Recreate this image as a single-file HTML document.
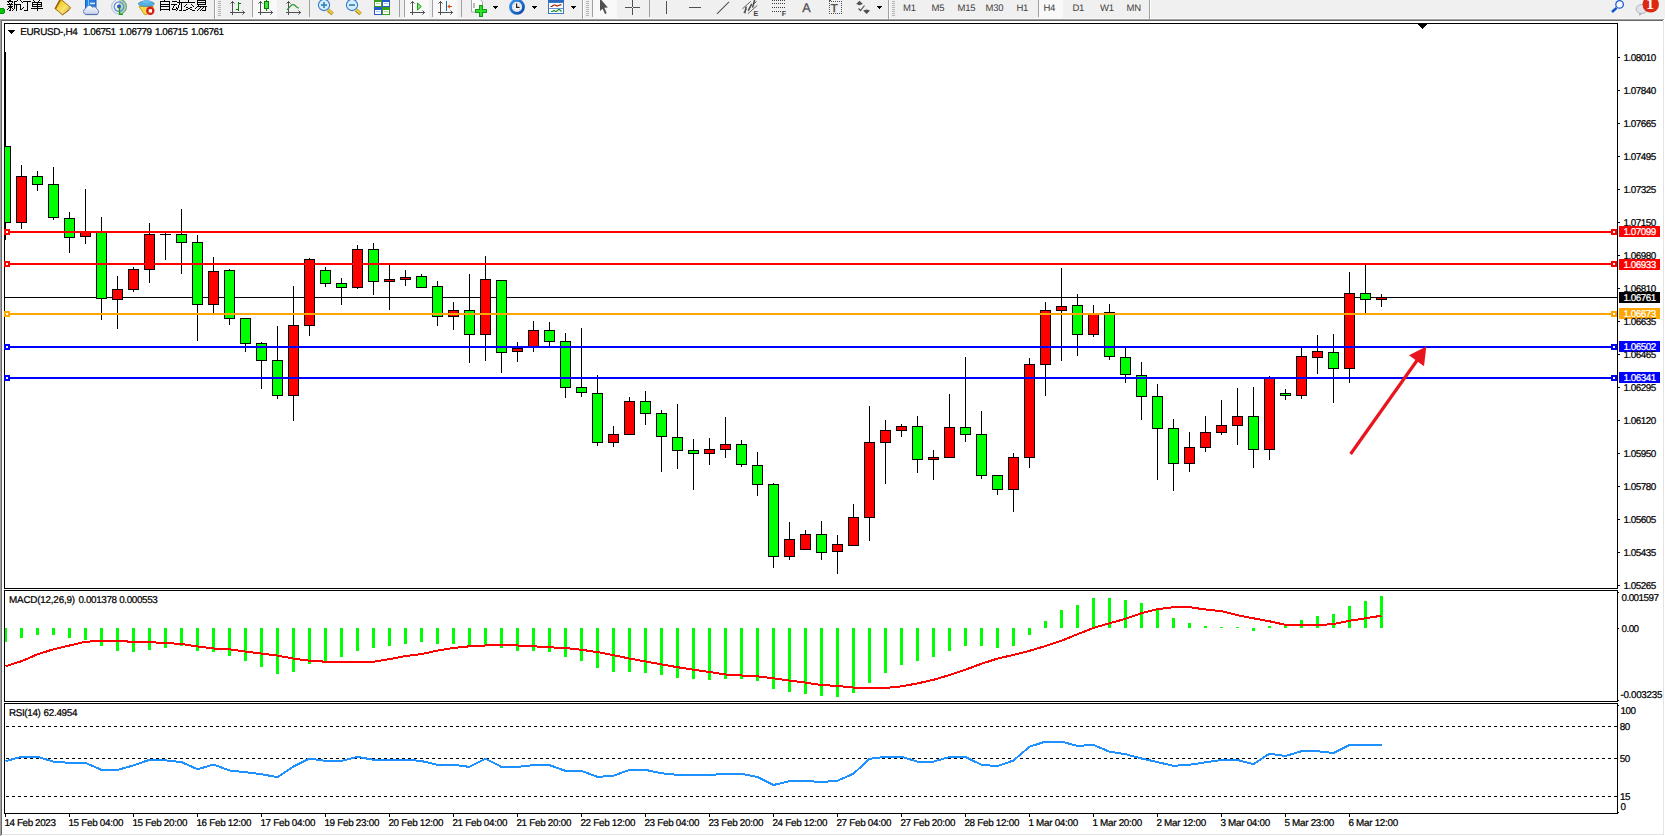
<!DOCTYPE html>
<html><head><meta charset="utf-8"><title>EURUSD H4</title>
<style>
html,body{margin:0;padding:0;background:#fff;}
body{width:1665px;height:836px;overflow:hidden;position:relative;}
svg{position:absolute;left:0;top:0;display:block;}
text{font-family:"Liberation Sans",sans-serif;text-rendering:geometricPrecision;}
</style></head><body>
<svg width="1665" height="836" viewBox="0 0 1665 836" shape-rendering="crispEdges">
<rect x="0" y="0" width="1665" height="836" fill="#fff"/>
<rect x="0" y="0" width="1665" height="19" fill="#f0f0f0"/>
<rect x="0" y="18" width="1665" height="1" fill="#f7f7f7"/>
<rect x="0" y="19" width="1664" height="1" fill="#a0a0a0"/>
<rect x="1" y="20" width="1662" height="1" fill="#696969"/>
<rect x="0" y="19" width="1" height="817" fill="#a0a0a0"/>
<rect x="1" y="20" width="1" height="815" fill="#696969"/>
<rect x="1663" y="21" width="1" height="814" fill="#e3e3e3"/>
<rect x="2" y="834" width="1662" height="1" fill="#e3e3e3"/>
<rect x="4" y="23" width="1614" height="1" fill="#000"/>
<rect x="4" y="588" width="1614" height="1" fill="#000"/>
<rect x="4" y="23" width="1" height="566" fill="#000"/>
<rect x="1617" y="23" width="1" height="566" fill="#000"/>
<rect x="4" y="590" width="1614" height="1" fill="#000"/>
<rect x="4" y="701" width="1614" height="1" fill="#000"/>
<rect x="4" y="590" width="1" height="112" fill="#000"/>
<rect x="1617" y="590" width="1" height="112" fill="#000"/>
<rect x="4" y="703" width="1614" height="1" fill="#000"/>
<rect x="4" y="813" width="1614" height="1" fill="#000"/>
<rect x="4" y="703" width="1" height="111" fill="#000"/>
<rect x="1617" y="703" width="1" height="111" fill="#000"/>
<rect x="1418" y="24" width="9" height="1" fill="#000"/>
<rect x="1419" y="25" width="7" height="1" fill="#000"/>
<rect x="1420" y="26" width="5" height="1" fill="#000"/>
<rect x="1421" y="27" width="3" height="1" fill="#000"/>
<rect x="1422" y="28" width="1" height="1" fill="#000"/>
<rect x="1618" y="57" width="2" height="1" fill="#000"/>
<rect x="1618" y="90" width="2" height="1" fill="#000"/>
<rect x="1618" y="123" width="2" height="1" fill="#000"/>
<rect x="1618" y="156" width="2" height="1" fill="#000"/>
<rect x="1618" y="189" width="2" height="1" fill="#000"/>
<rect x="1618" y="222" width="2" height="1" fill="#000"/>
<rect x="1618" y="255" width="2" height="1" fill="#000"/>
<rect x="1618" y="288" width="2" height="1" fill="#000"/>
<rect x="1618" y="321" width="2" height="1" fill="#000"/>
<rect x="1618" y="354" width="2" height="1" fill="#000"/>
<rect x="1618" y="387" width="2" height="1" fill="#000"/>
<rect x="1618" y="420" width="2" height="1" fill="#000"/>
<rect x="1618" y="453" width="2" height="1" fill="#000"/>
<rect x="1618" y="486" width="2" height="1" fill="#000"/>
<rect x="1618" y="519" width="2" height="1" fill="#000"/>
<rect x="1618" y="552" width="2" height="1" fill="#000"/>
<rect x="1618" y="585" width="2" height="1" fill="#000"/>
<rect x="5" y="297" width="1612" height="1" fill="#000"/>
<rect x="5" y="52" width="1" height="188" fill="#000"/>
<rect x="4" y="146" width="7" height="77" fill="#000"/>
<rect x="5" y="147" width="5" height="75" fill="#00ff00"/>
<rect x="21" y="165" width="1" height="64" fill="#000"/>
<rect x="16" y="176" width="11" height="47" fill="#000"/>
<rect x="17" y="177" width="9" height="45" fill="#ff0000"/>
<rect x="37" y="171" width="1" height="20" fill="#000"/>
<rect x="32" y="176" width="11" height="9" fill="#000"/>
<rect x="33" y="177" width="9" height="7" fill="#00ff00"/>
<rect x="53" y="167" width="1" height="53" fill="#000"/>
<rect x="48" y="184" width="11" height="34" fill="#000"/>
<rect x="49" y="185" width="9" height="32" fill="#00ff00"/>
<rect x="69" y="212" width="1" height="41" fill="#000"/>
<rect x="64" y="218" width="11" height="20" fill="#000"/>
<rect x="65" y="219" width="9" height="18" fill="#00ff00"/>
<rect x="85" y="189" width="1" height="55" fill="#000"/>
<rect x="80" y="232" width="11" height="5" fill="#000"/>
<rect x="81" y="233" width="9" height="3" fill="#ff0000"/>
<rect x="101" y="217" width="1" height="103" fill="#000"/>
<rect x="96" y="232" width="11" height="67" fill="#000"/>
<rect x="97" y="233" width="9" height="65" fill="#00ff00"/>
<rect x="117" y="276" width="1" height="53" fill="#000"/>
<rect x="112" y="289" width="11" height="11" fill="#000"/>
<rect x="113" y="290" width="9" height="9" fill="#ff0000"/>
<rect x="133" y="267" width="1" height="25" fill="#000"/>
<rect x="128" y="269" width="11" height="21" fill="#000"/>
<rect x="129" y="270" width="9" height="19" fill="#ff0000"/>
<rect x="149" y="223" width="1" height="60" fill="#000"/>
<rect x="144" y="234" width="11" height="36" fill="#000"/>
<rect x="145" y="235" width="9" height="34" fill="#ff0000"/>
<rect x="165" y="233" width="1" height="27" fill="#000"/>
<rect x="160" y="234" width="11" height="1" fill="#000"/>
<rect x="181" y="209" width="1" height="65" fill="#000"/>
<rect x="176" y="234" width="11" height="9" fill="#000"/>
<rect x="177" y="235" width="9" height="7" fill="#00ff00"/>
<rect x="197" y="235" width="1" height="106" fill="#000"/>
<rect x="192" y="242" width="11" height="63" fill="#000"/>
<rect x="193" y="243" width="9" height="61" fill="#00ff00"/>
<rect x="213" y="257" width="1" height="57" fill="#000"/>
<rect x="208" y="271" width="11" height="34" fill="#000"/>
<rect x="209" y="272" width="9" height="32" fill="#ff0000"/>
<rect x="229" y="269" width="1" height="56" fill="#000"/>
<rect x="224" y="270" width="11" height="49" fill="#000"/>
<rect x="225" y="271" width="9" height="47" fill="#00ff00"/>
<rect x="245" y="318" width="1" height="34" fill="#000"/>
<rect x="240" y="318" width="11" height="26" fill="#000"/>
<rect x="241" y="319" width="9" height="24" fill="#00ff00"/>
<rect x="261" y="342" width="1" height="47" fill="#000"/>
<rect x="256" y="343" width="11" height="18" fill="#000"/>
<rect x="257" y="344" width="9" height="16" fill="#00ff00"/>
<rect x="277" y="326" width="1" height="73" fill="#000"/>
<rect x="272" y="360" width="11" height="36" fill="#000"/>
<rect x="273" y="361" width="9" height="34" fill="#00ff00"/>
<rect x="293" y="286" width="1" height="135" fill="#000"/>
<rect x="288" y="325" width="11" height="71" fill="#000"/>
<rect x="289" y="326" width="9" height="69" fill="#ff0000"/>
<rect x="309" y="258" width="1" height="78" fill="#000"/>
<rect x="304" y="259" width="11" height="67" fill="#000"/>
<rect x="305" y="260" width="9" height="65" fill="#ff0000"/>
<rect x="325" y="267" width="1" height="20" fill="#000"/>
<rect x="320" y="270" width="11" height="14" fill="#000"/>
<rect x="321" y="271" width="9" height="12" fill="#00ff00"/>
<rect x="341" y="278" width="1" height="27" fill="#000"/>
<rect x="336" y="283" width="11" height="5" fill="#000"/>
<rect x="337" y="284" width="9" height="3" fill="#00ff00"/>
<rect x="357" y="245" width="1" height="44" fill="#000"/>
<rect x="352" y="249" width="11" height="39" fill="#000"/>
<rect x="353" y="250" width="9" height="37" fill="#ff0000"/>
<rect x="373" y="243" width="1" height="52" fill="#000"/>
<rect x="368" y="249" width="11" height="33" fill="#000"/>
<rect x="369" y="250" width="9" height="31" fill="#00ff00"/>
<rect x="389" y="265" width="1" height="45" fill="#000"/>
<rect x="384" y="279" width="11" height="3" fill="#000"/>
<rect x="385" y="280" width="9" height="1" fill="#ff0000"/>
<rect x="405" y="270" width="1" height="16" fill="#000"/>
<rect x="400" y="277" width="11" height="3" fill="#000"/>
<rect x="401" y="278" width="9" height="1" fill="#ff0000"/>
<rect x="421" y="274" width="1" height="14" fill="#000"/>
<rect x="416" y="276" width="11" height="12" fill="#000"/>
<rect x="417" y="277" width="9" height="10" fill="#00ff00"/>
<rect x="437" y="281" width="1" height="45" fill="#000"/>
<rect x="432" y="286" width="11" height="31" fill="#000"/>
<rect x="433" y="287" width="9" height="29" fill="#00ff00"/>
<rect x="453" y="302" width="1" height="28" fill="#000"/>
<rect x="448" y="310" width="11" height="7" fill="#000"/>
<rect x="449" y="311" width="9" height="5" fill="#ff0000"/>
<rect x="469" y="274" width="1" height="89" fill="#000"/>
<rect x="464" y="310" width="11" height="25" fill="#000"/>
<rect x="465" y="311" width="9" height="23" fill="#00ff00"/>
<rect x="485" y="256" width="1" height="105" fill="#000"/>
<rect x="480" y="279" width="11" height="56" fill="#000"/>
<rect x="481" y="280" width="9" height="54" fill="#ff0000"/>
<rect x="501" y="280" width="1" height="93" fill="#000"/>
<rect x="496" y="280" width="11" height="73" fill="#000"/>
<rect x="497" y="281" width="9" height="71" fill="#00ff00"/>
<rect x="517" y="342" width="1" height="20" fill="#000"/>
<rect x="512" y="348" width="11" height="4" fill="#000"/>
<rect x="513" y="349" width="9" height="2" fill="#ff0000"/>
<rect x="533" y="321" width="1" height="31" fill="#000"/>
<rect x="528" y="330" width="11" height="17" fill="#000"/>
<rect x="529" y="331" width="9" height="15" fill="#ff0000"/>
<rect x="549" y="322" width="1" height="24" fill="#000"/>
<rect x="544" y="330" width="11" height="12" fill="#000"/>
<rect x="545" y="331" width="9" height="10" fill="#00ff00"/>
<rect x="565" y="333" width="1" height="65" fill="#000"/>
<rect x="560" y="341" width="11" height="47" fill="#000"/>
<rect x="561" y="342" width="9" height="45" fill="#00ff00"/>
<rect x="581" y="328" width="1" height="69" fill="#000"/>
<rect x="576" y="387" width="11" height="6" fill="#000"/>
<rect x="577" y="388" width="9" height="4" fill="#00ff00"/>
<rect x="597" y="375" width="1" height="71" fill="#000"/>
<rect x="592" y="393" width="11" height="50" fill="#000"/>
<rect x="593" y="394" width="9" height="48" fill="#00ff00"/>
<rect x="613" y="426" width="1" height="21" fill="#000"/>
<rect x="608" y="434" width="11" height="9" fill="#000"/>
<rect x="609" y="435" width="9" height="7" fill="#ff0000"/>
<rect x="629" y="397" width="1" height="38" fill="#000"/>
<rect x="624" y="401" width="11" height="34" fill="#000"/>
<rect x="625" y="402" width="9" height="32" fill="#ff0000"/>
<rect x="645" y="391" width="1" height="34" fill="#000"/>
<rect x="640" y="401" width="11" height="13" fill="#000"/>
<rect x="641" y="402" width="9" height="11" fill="#00ff00"/>
<rect x="661" y="410" width="1" height="62" fill="#000"/>
<rect x="656" y="413" width="11" height="24" fill="#000"/>
<rect x="657" y="414" width="9" height="22" fill="#00ff00"/>
<rect x="677" y="404" width="1" height="65" fill="#000"/>
<rect x="672" y="437" width="11" height="14" fill="#000"/>
<rect x="673" y="438" width="9" height="12" fill="#00ff00"/>
<rect x="693" y="439" width="1" height="51" fill="#000"/>
<rect x="688" y="450" width="11" height="4" fill="#000"/>
<rect x="689" y="451" width="9" height="2" fill="#00ff00"/>
<rect x="709" y="438" width="1" height="27" fill="#000"/>
<rect x="704" y="449" width="11" height="5" fill="#000"/>
<rect x="705" y="450" width="9" height="3" fill="#ff0000"/>
<rect x="725" y="417" width="1" height="41" fill="#000"/>
<rect x="720" y="444" width="11" height="6" fill="#000"/>
<rect x="721" y="445" width="9" height="4" fill="#ff0000"/>
<rect x="741" y="440" width="1" height="27" fill="#000"/>
<rect x="736" y="444" width="11" height="21" fill="#000"/>
<rect x="737" y="445" width="9" height="19" fill="#00ff00"/>
<rect x="757" y="452" width="1" height="44" fill="#000"/>
<rect x="752" y="465" width="11" height="20" fill="#000"/>
<rect x="753" y="466" width="9" height="18" fill="#00ff00"/>
<rect x="773" y="483" width="1" height="85" fill="#000"/>
<rect x="768" y="484" width="11" height="73" fill="#000"/>
<rect x="769" y="485" width="9" height="71" fill="#00ff00"/>
<rect x="789" y="522" width="1" height="38" fill="#000"/>
<rect x="784" y="539" width="11" height="18" fill="#000"/>
<rect x="785" y="540" width="9" height="16" fill="#ff0000"/>
<rect x="805" y="530" width="1" height="20" fill="#000"/>
<rect x="800" y="534" width="11" height="16" fill="#000"/>
<rect x="801" y="535" width="9" height="14" fill="#ff0000"/>
<rect x="821" y="521" width="1" height="39" fill="#000"/>
<rect x="816" y="534" width="11" height="19" fill="#000"/>
<rect x="817" y="535" width="9" height="17" fill="#00ff00"/>
<rect x="837" y="535" width="1" height="39" fill="#000"/>
<rect x="832" y="544" width="11" height="8" fill="#000"/>
<rect x="833" y="545" width="9" height="6" fill="#ff0000"/>
<rect x="853" y="504" width="1" height="42" fill="#000"/>
<rect x="848" y="517" width="11" height="29" fill="#000"/>
<rect x="849" y="518" width="9" height="27" fill="#ff0000"/>
<rect x="869" y="406" width="1" height="135" fill="#000"/>
<rect x="864" y="442" width="11" height="76" fill="#000"/>
<rect x="865" y="443" width="9" height="74" fill="#ff0000"/>
<rect x="885" y="420" width="1" height="64" fill="#000"/>
<rect x="880" y="430" width="11" height="13" fill="#000"/>
<rect x="881" y="431" width="9" height="11" fill="#ff0000"/>
<rect x="901" y="424" width="1" height="13" fill="#000"/>
<rect x="896" y="426" width="11" height="5" fill="#000"/>
<rect x="897" y="427" width="9" height="3" fill="#ff0000"/>
<rect x="917" y="416" width="1" height="57" fill="#000"/>
<rect x="912" y="426" width="11" height="34" fill="#000"/>
<rect x="913" y="427" width="9" height="32" fill="#00ff00"/>
<rect x="933" y="450" width="1" height="30" fill="#000"/>
<rect x="928" y="457" width="11" height="3" fill="#000"/>
<rect x="929" y="458" width="9" height="1" fill="#ff0000"/>
<rect x="949" y="394" width="1" height="64" fill="#000"/>
<rect x="944" y="427" width="11" height="31" fill="#000"/>
<rect x="945" y="428" width="9" height="29" fill="#ff0000"/>
<rect x="965" y="357" width="1" height="85" fill="#000"/>
<rect x="960" y="427" width="11" height="8" fill="#000"/>
<rect x="961" y="428" width="9" height="6" fill="#00ff00"/>
<rect x="981" y="411" width="1" height="68" fill="#000"/>
<rect x="976" y="434" width="11" height="42" fill="#000"/>
<rect x="977" y="435" width="9" height="40" fill="#00ff00"/>
<rect x="997" y="475" width="1" height="20" fill="#000"/>
<rect x="992" y="475" width="11" height="15" fill="#000"/>
<rect x="993" y="476" width="9" height="13" fill="#00ff00"/>
<rect x="1013" y="453" width="1" height="59" fill="#000"/>
<rect x="1008" y="457" width="11" height="33" fill="#000"/>
<rect x="1009" y="458" width="9" height="31" fill="#ff0000"/>
<rect x="1029" y="358" width="1" height="110" fill="#000"/>
<rect x="1024" y="364" width="11" height="94" fill="#000"/>
<rect x="1025" y="365" width="9" height="92" fill="#ff0000"/>
<rect x="1045" y="302" width="1" height="94" fill="#000"/>
<rect x="1040" y="310" width="11" height="55" fill="#000"/>
<rect x="1041" y="311" width="9" height="53" fill="#ff0000"/>
<rect x="1061" y="268" width="1" height="93" fill="#000"/>
<rect x="1056" y="306" width="11" height="5" fill="#000"/>
<rect x="1057" y="307" width="9" height="3" fill="#ff0000"/>
<rect x="1077" y="294" width="1" height="62" fill="#000"/>
<rect x="1072" y="305" width="11" height="30" fill="#000"/>
<rect x="1073" y="306" width="9" height="28" fill="#00ff00"/>
<rect x="1093" y="305" width="1" height="32" fill="#000"/>
<rect x="1088" y="314" width="11" height="21" fill="#000"/>
<rect x="1089" y="315" width="9" height="19" fill="#ff0000"/>
<rect x="1109" y="304" width="1" height="56" fill="#000"/>
<rect x="1104" y="312" width="11" height="45" fill="#000"/>
<rect x="1105" y="313" width="9" height="43" fill="#00ff00"/>
<rect x="1125" y="348" width="1" height="35" fill="#000"/>
<rect x="1120" y="357" width="11" height="18" fill="#000"/>
<rect x="1121" y="358" width="9" height="16" fill="#00ff00"/>
<rect x="1141" y="362" width="1" height="58" fill="#000"/>
<rect x="1136" y="375" width="11" height="22" fill="#000"/>
<rect x="1137" y="376" width="9" height="20" fill="#00ff00"/>
<rect x="1157" y="384" width="1" height="96" fill="#000"/>
<rect x="1152" y="396" width="11" height="33" fill="#000"/>
<rect x="1153" y="397" width="9" height="31" fill="#00ff00"/>
<rect x="1173" y="419" width="1" height="72" fill="#000"/>
<rect x="1168" y="428" width="11" height="36" fill="#000"/>
<rect x="1169" y="429" width="9" height="34" fill="#00ff00"/>
<rect x="1189" y="432" width="1" height="40" fill="#000"/>
<rect x="1184" y="447" width="11" height="17" fill="#000"/>
<rect x="1185" y="448" width="9" height="15" fill="#ff0000"/>
<rect x="1205" y="416" width="1" height="36" fill="#000"/>
<rect x="1200" y="432" width="11" height="16" fill="#000"/>
<rect x="1201" y="433" width="9" height="14" fill="#ff0000"/>
<rect x="1221" y="400" width="1" height="35" fill="#000"/>
<rect x="1216" y="425" width="11" height="8" fill="#000"/>
<rect x="1217" y="426" width="9" height="6" fill="#ff0000"/>
<rect x="1237" y="388" width="1" height="57" fill="#000"/>
<rect x="1232" y="416" width="11" height="10" fill="#000"/>
<rect x="1233" y="417" width="9" height="8" fill="#ff0000"/>
<rect x="1253" y="387" width="1" height="81" fill="#000"/>
<rect x="1248" y="416" width="11" height="34" fill="#000"/>
<rect x="1249" y="417" width="9" height="32" fill="#00ff00"/>
<rect x="1269" y="376" width="1" height="84" fill="#000"/>
<rect x="1264" y="378" width="11" height="72" fill="#000"/>
<rect x="1265" y="379" width="9" height="70" fill="#ff0000"/>
<rect x="1285" y="389" width="1" height="11" fill="#000"/>
<rect x="1280" y="393" width="11" height="3" fill="#000"/>
<rect x="1281" y="394" width="9" height="1" fill="#00ff00"/>
<rect x="1301" y="348" width="1" height="51" fill="#000"/>
<rect x="1296" y="356" width="11" height="40" fill="#000"/>
<rect x="1297" y="357" width="9" height="38" fill="#ff0000"/>
<rect x="1317" y="335" width="1" height="39" fill="#000"/>
<rect x="1312" y="351" width="11" height="7" fill="#000"/>
<rect x="1313" y="352" width="9" height="5" fill="#ff0000"/>
<rect x="1333" y="334" width="1" height="69" fill="#000"/>
<rect x="1328" y="352" width="11" height="17" fill="#000"/>
<rect x="1329" y="353" width="9" height="15" fill="#00ff00"/>
<rect x="1349" y="272" width="1" height="111" fill="#000"/>
<rect x="1344" y="293" width="11" height="76" fill="#000"/>
<rect x="1345" y="294" width="9" height="74" fill="#ff0000"/>
<rect x="1365" y="265" width="1" height="48" fill="#000"/>
<rect x="1360" y="293" width="11" height="7" fill="#000"/>
<rect x="1361" y="294" width="9" height="5" fill="#00ff00"/>
<rect x="1381" y="294" width="1" height="13" fill="#000"/>
<rect x="1376" y="297" width="11" height="3" fill="#000"/>
<rect x="1377" y="298" width="9" height="1" fill="#ff0000"/>
<rect x="5" y="231" width="1612" height="2" fill="#ff0000"/>
<rect x="4" y="229" width="6" height="6" fill="#ff0000"/>
<rect x="6" y="231" width="2" height="2" fill="#fff"/>
<rect x="1611" y="229" width="6" height="6" fill="#ff0000"/>
<rect x="1613" y="231" width="2" height="2" fill="#fff"/>
<rect x="1619" y="226" width="41" height="11" fill="#ff0000"/>
<rect x="5" y="263" width="1612" height="2" fill="#ff0000"/>
<rect x="4" y="261" width="6" height="6" fill="#ff0000"/>
<rect x="6" y="263" width="2" height="2" fill="#fff"/>
<rect x="1611" y="261" width="6" height="6" fill="#ff0000"/>
<rect x="1613" y="263" width="2" height="2" fill="#fff"/>
<rect x="1619" y="259" width="41" height="11" fill="#ff0000"/>
<rect x="5" y="313" width="1612" height="2" fill="#ffa500"/>
<rect x="4" y="311" width="6" height="6" fill="#ffa500"/>
<rect x="6" y="313" width="2" height="2" fill="#fff"/>
<rect x="1611" y="311" width="6" height="6" fill="#ffa500"/>
<rect x="1613" y="313" width="2" height="2" fill="#fff"/>
<rect x="1619" y="308" width="41" height="11" fill="#ffa500"/>
<rect x="5" y="346" width="1612" height="2" fill="#0000ff"/>
<rect x="4" y="344" width="6" height="6" fill="#0000ff"/>
<rect x="6" y="346" width="2" height="2" fill="#fff"/>
<rect x="1611" y="344" width="6" height="6" fill="#0000ff"/>
<rect x="1613" y="346" width="2" height="2" fill="#fff"/>
<rect x="1619" y="341" width="41" height="11" fill="#0000ff"/>
<rect x="5" y="377" width="1612" height="2" fill="#0000ff"/>
<rect x="4" y="375" width="6" height="6" fill="#0000ff"/>
<rect x="6" y="377" width="2" height="2" fill="#fff"/>
<rect x="1611" y="375" width="6" height="6" fill="#0000ff"/>
<rect x="1613" y="377" width="2" height="2" fill="#fff"/>
<rect x="1619" y="372" width="41" height="11" fill="#0000ff"/>
<rect x="1619" y="292" width="41" height="11" fill="#000"/>
<rect x="5" y="628" width="2" height="14" fill="#00ff00"/>
<rect x="20" y="628" width="3" height="10" fill="#00ff00"/>
<rect x="36" y="628" width="3" height="7" fill="#00ff00"/>
<rect x="52" y="628" width="3" height="7" fill="#00ff00"/>
<rect x="68" y="628" width="3" height="10" fill="#00ff00"/>
<rect x="84" y="628" width="3" height="12" fill="#00ff00"/>
<rect x="100" y="628" width="3" height="18" fill="#00ff00"/>
<rect x="116" y="628" width="3" height="23" fill="#00ff00"/>
<rect x="132" y="628" width="3" height="24" fill="#00ff00"/>
<rect x="148" y="628" width="3" height="22" fill="#00ff00"/>
<rect x="164" y="628" width="3" height="20" fill="#00ff00"/>
<rect x="180" y="628" width="3" height="18" fill="#00ff00"/>
<rect x="196" y="628" width="3" height="23" fill="#00ff00"/>
<rect x="212" y="628" width="3" height="24" fill="#00ff00"/>
<rect x="228" y="628" width="3" height="28" fill="#00ff00"/>
<rect x="244" y="628" width="3" height="33" fill="#00ff00"/>
<rect x="260" y="628" width="3" height="39" fill="#00ff00"/>
<rect x="276" y="628" width="3" height="46" fill="#00ff00"/>
<rect x="292" y="628" width="3" height="44" fill="#00ff00"/>
<rect x="308" y="628" width="3" height="36" fill="#00ff00"/>
<rect x="324" y="628" width="3" height="34" fill="#00ff00"/>
<rect x="340" y="628" width="3" height="29" fill="#00ff00"/>
<rect x="356" y="628" width="3" height="23" fill="#00ff00"/>
<rect x="372" y="628" width="3" height="20" fill="#00ff00"/>
<rect x="388" y="628" width="3" height="18" fill="#00ff00"/>
<rect x="404" y="628" width="3" height="16" fill="#00ff00"/>
<rect x="420" y="628" width="3" height="14" fill="#00ff00"/>
<rect x="436" y="628" width="3" height="16" fill="#00ff00"/>
<rect x="452" y="628" width="3" height="16" fill="#00ff00"/>
<rect x="468" y="628" width="3" height="18" fill="#00ff00"/>
<rect x="484" y="628" width="3" height="17" fill="#00ff00"/>
<rect x="500" y="628" width="3" height="20" fill="#00ff00"/>
<rect x="516" y="628" width="3" height="23" fill="#00ff00"/>
<rect x="532" y="628" width="3" height="23" fill="#00ff00"/>
<rect x="548" y="628" width="3" height="24" fill="#00ff00"/>
<rect x="564" y="628" width="3" height="29" fill="#00ff00"/>
<rect x="580" y="628" width="3" height="33" fill="#00ff00"/>
<rect x="596" y="628" width="3" height="40" fill="#00ff00"/>
<rect x="612" y="628" width="3" height="44" fill="#00ff00"/>
<rect x="628" y="628" width="3" height="44" fill="#00ff00"/>
<rect x="644" y="628" width="3" height="45" fill="#00ff00"/>
<rect x="660" y="628" width="3" height="47" fill="#00ff00"/>
<rect x="676" y="628" width="3" height="50" fill="#00ff00"/>
<rect x="692" y="628" width="3" height="51" fill="#00ff00"/>
<rect x="708" y="628" width="3" height="52" fill="#00ff00"/>
<rect x="724" y="628" width="3" height="51" fill="#00ff00"/>
<rect x="740" y="628" width="3" height="51" fill="#00ff00"/>
<rect x="756" y="628" width="3" height="53" fill="#00ff00"/>
<rect x="772" y="628" width="3" height="61" fill="#00ff00"/>
<rect x="788" y="628" width="3" height="64" fill="#00ff00"/>
<rect x="804" y="628" width="3" height="66" fill="#00ff00"/>
<rect x="820" y="628" width="3" height="68" fill="#00ff00"/>
<rect x="836" y="628" width="3" height="69" fill="#00ff00"/>
<rect x="852" y="628" width="3" height="65" fill="#00ff00"/>
<rect x="868" y="628" width="3" height="55" fill="#00ff00"/>
<rect x="884" y="628" width="3" height="45" fill="#00ff00"/>
<rect x="900" y="628" width="3" height="37" fill="#00ff00"/>
<rect x="916" y="628" width="3" height="33" fill="#00ff00"/>
<rect x="932" y="628" width="3" height="29" fill="#00ff00"/>
<rect x="948" y="628" width="3" height="23" fill="#00ff00"/>
<rect x="964" y="628" width="3" height="18" fill="#00ff00"/>
<rect x="980" y="628" width="3" height="18" fill="#00ff00"/>
<rect x="996" y="628" width="3" height="20" fill="#00ff00"/>
<rect x="1012" y="628" width="3" height="18" fill="#00ff00"/>
<rect x="1028" y="628" width="3" height="7" fill="#00ff00"/>
<rect x="1044" y="621" width="3" height="7" fill="#00ff00"/>
<rect x="1060" y="610" width="3" height="18" fill="#00ff00"/>
<rect x="1076" y="605" width="3" height="23" fill="#00ff00"/>
<rect x="1092" y="598" width="3" height="30" fill="#00ff00"/>
<rect x="1108" y="598" width="3" height="30" fill="#00ff00"/>
<rect x="1124" y="600" width="3" height="28" fill="#00ff00"/>
<rect x="1140" y="603" width="3" height="25" fill="#00ff00"/>
<rect x="1156" y="610" width="3" height="18" fill="#00ff00"/>
<rect x="1172" y="618" width="3" height="10" fill="#00ff00"/>
<rect x="1188" y="623" width="3" height="5" fill="#00ff00"/>
<rect x="1204" y="626" width="3" height="2" fill="#00ff00"/>
<rect x="1220" y="627" width="3" height="1" fill="#00ff00"/>
<rect x="1236" y="627" width="3" height="1" fill="#00ff00"/>
<rect x="1252" y="628" width="3" height="3" fill="#00ff00"/>
<rect x="1268" y="626" width="3" height="2" fill="#00ff00"/>
<rect x="1284" y="624" width="3" height="4" fill="#00ff00"/>
<rect x="1300" y="620" width="3" height="8" fill="#00ff00"/>
<rect x="1316" y="616" width="3" height="12" fill="#00ff00"/>
<rect x="1332" y="614" width="3" height="14" fill="#00ff00"/>
<rect x="1348" y="606" width="3" height="22" fill="#00ff00"/>
<rect x="1364" y="601" width="3" height="27" fill="#00ff00"/>
<rect x="1380" y="596" width="3" height="32" fill="#00ff00"/>
<path d="M5.5,666.2 L21.5,661.2 L37.5,654.3 L53.5,649.3 L69.5,645.5 L85.5,641.7 L101.5,641.0 L117.5,641.2 L133.5,641.7 L149.5,642.2 L165.5,643.0 L181.5,644.0 L197.5,646.5 L213.5,648.5 L229.5,649.3 L245.5,651.6 L261.5,653.6 L277.5,655.6 L293.5,658.6 L309.5,660.7 L325.5,661.7 L341.5,661.9 L357.5,661.9 L373.5,661.7 L389.5,659.1 L405.5,656.1 L421.5,654.1 L437.5,650.6 L453.5,648.0 L469.5,646.3 L485.5,645.5 L501.5,645.0 L517.5,645.5 L533.5,646.3 L549.5,647.3 L565.5,648.0 L581.5,649.8 L597.5,652.1 L613.5,655.1 L629.5,658.6 L645.5,661.4 L661.5,664.4 L677.5,667.2 L693.5,669.7 L709.5,672.0 L725.5,674.5 L741.5,675.5 L757.5,676.3 L773.5,678.3 L789.5,680.6 L805.5,682.6 L821.5,685.1 L837.5,685.9 L853.5,687.6 L869.5,687.9 L885.5,687.9 L901.5,686.4 L917.5,683.4 L933.5,679.8 L949.5,675.0 L965.5,669.7 L981.5,663.7 L997.5,658.6 L1013.5,654.9 L1029.5,650.8 L1045.5,646.0 L1061.5,640.7 L1077.5,634.2 L1093.5,627.9 L1109.5,623.3 L1125.5,618.8 L1141.5,613.2 L1157.5,609.2 L1173.5,607.2 L1189.5,607.2 L1205.5,609.5 L1221.5,611.2 L1237.5,615.2 L1253.5,618.3 L1269.5,621.3 L1285.5,624.8 L1301.5,625.1 L1317.5,625.1 L1333.5,624.1 L1349.5,620.8 L1365.5,618.3 L1381.5,615.7" fill="none" stroke="#ff0000" stroke-width="2" stroke-linejoin="round"/>
<path d="M6,726.5 H1617" stroke="#000" stroke-width="1" stroke-dasharray="3,3" fill="none"/>
<path d="M6,758.5 H1617" stroke="#000" stroke-width="1" stroke-dasharray="3,3" fill="none"/>
<path d="M6,796.5 H1617" stroke="#000" stroke-width="1" stroke-dasharray="3,3" fill="none"/>
<path d="M5.5,761.1 L21.5,756.8 L37.5,756.8 L53.5,761.6 L69.5,762.9 L85.5,762.9 L101.5,769.9 L117.5,769.9 L133.5,765.4 L149.5,759.8 L165.5,760.3 L181.5,762.1 L197.5,769.2 L213.5,764.6 L229.5,770.4 L245.5,772.2 L261.5,774.2 L277.5,777.2 L293.5,766.6 L309.5,758.6 L325.5,760.8 L341.5,760.8 L357.5,756.8 L373.5,759.8 L389.5,759.8 L405.5,759.6 L421.5,761.0 L437.5,764.8 L453.5,764.8 L469.5,766.9 L485.5,758.8 L501.5,766.9 L517.5,766.9 L533.5,765.1 L549.5,765.1 L565.5,770.9 L581.5,770.9 L597.5,776.9 L613.5,775.7 L629.5,769.9 L645.5,769.9 L661.5,773.2 L677.5,774.9 L693.5,774.9 L709.5,774.9 L725.5,773.9 L741.5,773.9 L757.5,776.9 L773.5,785.0 L789.5,781.2 L805.5,781.0 L821.5,782.0 L837.5,780.7 L853.5,773.7 L869.5,758.8 L885.5,756.8 L901.5,756.8 L917.5,761.6 L933.5,761.6 L949.5,757.0 L965.5,757.0 L981.5,764.8 L997.5,766.1 L1013.5,760.5 L1029.5,746.7 L1045.5,741.6 L1061.5,741.6 L1077.5,745.9 L1093.5,744.9 L1109.5,751.7 L1125.5,754.2 L1141.5,758.5 L1157.5,762.1 L1173.5,765.8 L1189.5,764.8 L1205.5,762.3 L1221.5,760.0 L1237.5,760.0 L1253.5,764.1 L1269.5,753.7 L1285.5,756.0 L1301.5,751.2 L1317.5,751.2 L1333.5,753.0 L1349.5,744.9 L1365.5,744.9 L1381.5,744.9" fill="none" stroke="#1e90ff" stroke-width="2" stroke-linejoin="round"/>
<rect x="5" y="814" width="1" height="3" fill="#000"/>
<rect x="69" y="814" width="1" height="3" fill="#000"/>
<rect x="133" y="814" width="1" height="3" fill="#000"/>
<rect x="197" y="814" width="1" height="3" fill="#000"/>
<rect x="261" y="814" width="1" height="3" fill="#000"/>
<rect x="325" y="814" width="1" height="3" fill="#000"/>
<rect x="389" y="814" width="1" height="3" fill="#000"/>
<rect x="453" y="814" width="1" height="3" fill="#000"/>
<rect x="517" y="814" width="1" height="3" fill="#000"/>
<rect x="581" y="814" width="1" height="3" fill="#000"/>
<rect x="645" y="814" width="1" height="3" fill="#000"/>
<rect x="709" y="814" width="1" height="3" fill="#000"/>
<rect x="773" y="814" width="1" height="3" fill="#000"/>
<rect x="837" y="814" width="1" height="3" fill="#000"/>
<rect x="901" y="814" width="1" height="3" fill="#000"/>
<rect x="965" y="814" width="1" height="3" fill="#000"/>
<rect x="1029" y="814" width="1" height="3" fill="#000"/>
<rect x="1093" y="814" width="1" height="3" fill="#000"/>
<rect x="1157" y="814" width="1" height="3" fill="#000"/>
<rect x="1221" y="814" width="1" height="3" fill="#000"/>
<rect x="1285" y="814" width="1" height="3" fill="#000"/>
<rect x="1349" y="814" width="1" height="3" fill="#000"/>
<rect x="8" y="30" width="7" height="1" fill="#000"/>
<rect x="9" y="31" width="5" height="1" fill="#000"/>
<rect x="10" y="32" width="3" height="1" fill="#000"/>
<rect x="11" y="33" width="1" height="1" fill="#000"/>
<rect x="1618" y="592" width="1" height="1" fill="#000"/>
<rect x="1618" y="628" width="1" height="1" fill="#000"/>
<rect x="1618" y="700" width="1" height="1" fill="#000"/>
<rect x="1618" y="705" width="1" height="1" fill="#000"/>
<rect x="1618" y="812" width="1" height="1" fill="#000"/>
<g shape-rendering="geometricPrecision"><line x1="1350.6" y1="454" x2="1417" y2="360.5" stroke="#e8141e" stroke-width="3.2"/><polygon points="1426.3,346.6 1409,355.2 1424,366.3" fill="#e8141e"/></g>
<rect x="253" y="0" width="24" height="18" fill="#f9f9f9"/>
<rect x="405" y="0" width="24" height="18" fill="#f9f9f9"/>
<rect x="433" y="0" width="24" height="18" fill="#f9f9f9"/>
<rect x="593" y="0" width="24" height="18" fill="#f9f9f9"/>
<rect x="1039" y="0" width="24" height="18" fill="#f9f9f9"/>
<rect x="252" y="0" width="1" height="17" fill="#a0a0a0"/>
<rect x="309" y="0" width="1" height="17" fill="#a0a0a0"/>
<rect x="399" y="0" width="1" height="17" fill="#a0a0a0"/>
<rect x="404" y="0" width="1" height="17" fill="#a0a0a0"/>
<rect x="432" y="0" width="1" height="17" fill="#a0a0a0"/>
<rect x="461" y="0" width="1" height="17" fill="#a0a0a0"/>
<rect x="592" y="0" width="1" height="17" fill="#a0a0a0"/>
<rect x="649" y="0" width="1" height="17" fill="#a0a0a0"/>
<rect x="1038" y="0" width="1" height="17" fill="#a0a0a0"/>
<rect x="214" y="0" width="1" height="19" fill="#a0a0a0"/>
<rect x="215" y="0" width="1" height="19" fill="#ffffff"/>
<rect x="582" y="0" width="1" height="19" fill="#a0a0a0"/>
<rect x="583" y="0" width="1" height="19" fill="#ffffff"/>
<rect x="888" y="0" width="1" height="19" fill="#a0a0a0"/>
<rect x="889" y="0" width="1" height="19" fill="#ffffff"/>
<rect x="1149" y="0" width="1" height="19" fill="#a0a0a0"/>
<rect x="1150" y="0" width="1" height="19" fill="#ffffff"/>
<rect x="218" y="1" width="3" height="1" fill="#b4b4b4"/>
<rect x="218" y="3" width="3" height="1" fill="#b4b4b4"/>
<rect x="218" y="5" width="3" height="1" fill="#b4b4b4"/>
<rect x="218" y="7" width="3" height="1" fill="#b4b4b4"/>
<rect x="218" y="9" width="3" height="1" fill="#b4b4b4"/>
<rect x="218" y="11" width="3" height="1" fill="#b4b4b4"/>
<rect x="218" y="13" width="3" height="1" fill="#b4b4b4"/>
<rect x="218" y="15" width="3" height="1" fill="#b4b4b4"/>
<rect x="586" y="1" width="3" height="1" fill="#b4b4b4"/>
<rect x="586" y="3" width="3" height="1" fill="#b4b4b4"/>
<rect x="586" y="5" width="3" height="1" fill="#b4b4b4"/>
<rect x="586" y="7" width="3" height="1" fill="#b4b4b4"/>
<rect x="586" y="9" width="3" height="1" fill="#b4b4b4"/>
<rect x="586" y="11" width="3" height="1" fill="#b4b4b4"/>
<rect x="586" y="13" width="3" height="1" fill="#b4b4b4"/>
<rect x="586" y="15" width="3" height="1" fill="#b4b4b4"/>
<rect x="892" y="1" width="3" height="1" fill="#b4b4b4"/>
<rect x="892" y="3" width="3" height="1" fill="#b4b4b4"/>
<rect x="892" y="5" width="3" height="1" fill="#b4b4b4"/>
<rect x="892" y="7" width="3" height="1" fill="#b4b4b4"/>
<rect x="892" y="9" width="3" height="1" fill="#b4b4b4"/>
<rect x="892" y="11" width="3" height="1" fill="#b4b4b4"/>
<rect x="892" y="13" width="3" height="1" fill="#b4b4b4"/>
<rect x="892" y="15" width="3" height="1" fill="#b4b4b4"/>
<rect x="493" y="6" width="5" height="1" fill="#000"/>
<rect x="494" y="7" width="3" height="1" fill="#000"/>
<rect x="495" y="8" width="1" height="1" fill="#000"/>
<rect x="532" y="6" width="5" height="1" fill="#000"/>
<rect x="533" y="7" width="3" height="1" fill="#000"/>
<rect x="534" y="8" width="1" height="1" fill="#000"/>
<rect x="571" y="6" width="5" height="1" fill="#000"/>
<rect x="572" y="7" width="3" height="1" fill="#000"/>
<rect x="573" y="8" width="1" height="1" fill="#000"/>
<rect x="877" y="6" width="5" height="1" fill="#000"/>
<rect x="878" y="7" width="3" height="1" fill="#000"/>
<rect x="879" y="8" width="1" height="1" fill="#000"/>
<rect x="0" y="9" width="4" height="4" fill="#00c400"/>
<rect x="0" y="8" width="4" height="1" fill="#109010"/>
<rect x="0" y="13" width="4" height="1" fill="#0a8a0a"/>
<rect x="4" y="9" width="1" height="4" fill="#109010"/>
<rect x="232" y="1" width="1" height="14" fill="#505050"/>
<rect x="230" y="12" width="15" height="1" fill="#505050"/>
<rect x="231" y="2" width="3" height="1" fill="#505050"/>
<rect x="230" y="3" width="1" height="1" fill="#9a9a9a"/>
<rect x="234" y="3" width="1" height="1" fill="#9a9a9a"/>
<rect x="243" y="11" width="1" height="3" fill="#505050"/>
<rect x="242" y="10" width="1" height="1" fill="#9a9a9a"/>
<rect x="242" y="14" width="1" height="1" fill="#9a9a9a"/>
<rect x="238" y="2" width="1" height="9" fill="#008000"/>
<rect x="239" y="3" width="2" height="1" fill="#008000"/>
<rect x="236" y="9" width="2" height="1" fill="#008000"/>
<rect x="260" y="1" width="1" height="14" fill="#505050"/>
<rect x="258" y="12" width="15" height="1" fill="#505050"/>
<rect x="259" y="2" width="3" height="1" fill="#505050"/>
<rect x="258" y="3" width="1" height="1" fill="#9a9a9a"/>
<rect x="262" y="3" width="1" height="1" fill="#9a9a9a"/>
<rect x="271" y="11" width="1" height="3" fill="#505050"/>
<rect x="270" y="10" width="1" height="1" fill="#9a9a9a"/>
<rect x="270" y="14" width="1" height="1" fill="#9a9a9a"/>
<rect x="266" y="0" width="1" height="11" fill="#008000"/>
<rect x="264" y="1" width="5" height="8" fill="#008000"/>
<rect x="265" y="2" width="3" height="6" fill="#44e044"/>
<rect x="288" y="1" width="1" height="14" fill="#505050"/>
<rect x="286" y="12" width="15" height="1" fill="#505050"/>
<rect x="287" y="2" width="3" height="1" fill="#505050"/>
<rect x="286" y="3" width="1" height="1" fill="#9a9a9a"/>
<rect x="290" y="3" width="1" height="1" fill="#9a9a9a"/>
<rect x="299" y="11" width="1" height="3" fill="#505050"/>
<rect x="298" y="10" width="1" height="1" fill="#9a9a9a"/>
<rect x="298" y="14" width="1" height="1" fill="#9a9a9a"/>
<rect x="374" y="-1" width="8" height="8" fill="#3a9e1e"/>
<rect x="375" y="2" width="6" height="4" fill="#ffffff"/>
<rect x="376" y="3" width="4" height="1" fill="#a8dc98"/>
<rect x="382" y="-1" width="8" height="8" fill="#2458cc"/>
<rect x="383" y="2" width="6" height="4" fill="#ffffff"/>
<rect x="384" y="3" width="4" height="1" fill="#a8c8f0"/>
<rect x="374" y="7" width="8" height="8" fill="#2458cc"/>
<rect x="375" y="10" width="6" height="4" fill="#ffffff"/>
<rect x="376" y="11" width="4" height="1" fill="#a8c8f0"/>
<rect x="382" y="7" width="8" height="8" fill="#3a9e1e"/>
<rect x="383" y="10" width="6" height="4" fill="#ffffff"/>
<rect x="384" y="11" width="4" height="1" fill="#a8dc98"/>
<rect x="412" y="1" width="1" height="14" fill="#505050"/>
<rect x="410" y="12" width="15" height="1" fill="#505050"/>
<rect x="411" y="2" width="3" height="1" fill="#505050"/>
<rect x="410" y="3" width="1" height="1" fill="#9a9a9a"/>
<rect x="414" y="3" width="1" height="1" fill="#9a9a9a"/>
<rect x="423" y="11" width="1" height="3" fill="#505050"/>
<rect x="422" y="10" width="1" height="1" fill="#9a9a9a"/>
<rect x="422" y="14" width="1" height="1" fill="#9a9a9a"/>
<rect x="440" y="1" width="1" height="14" fill="#505050"/>
<rect x="438" y="12" width="15" height="1" fill="#505050"/>
<rect x="439" y="2" width="3" height="1" fill="#505050"/>
<rect x="438" y="3" width="1" height="1" fill="#9a9a9a"/>
<rect x="442" y="3" width="1" height="1" fill="#9a9a9a"/>
<rect x="451" y="11" width="1" height="3" fill="#505050"/>
<rect x="450" y="10" width="1" height="1" fill="#9a9a9a"/>
<rect x="450" y="14" width="1" height="1" fill="#9a9a9a"/>
<rect x="446" y="1" width="1" height="10" fill="#1070a0"/>
<rect x="548" y="0" width="16" height="14" fill="#3a78c8"/>
<rect x="549" y="3" width="14" height="10" fill="#ffffff"/>
<rect x="549" y="8" width="14" height="1" fill="#6a94d0"/>
<rect x="548" y="0" width="16" height="2" fill="#2a68c0"/>
<rect x="632" y="0" width="1" height="7" fill="#505050"/>
<rect x="632" y="8" width="1" height="7" fill="#505050"/>
<rect x="625" y="7" width="7" height="1" fill="#505050"/>
<rect x="633" y="7" width="7" height="1" fill="#505050"/>
<rect x="666" y="1" width="1" height="13" fill="#505050"/>
<rect x="689" y="7" width="12" height="1" fill="#505050"/>
<rect x="772" y="0" width="1" height="1" fill="#404040"/>
<rect x="774" y="0" width="1" height="1" fill="#404040"/>
<rect x="776" y="0" width="1" height="1" fill="#404040"/>
<rect x="778" y="0" width="1" height="1" fill="#404040"/>
<rect x="780" y="0" width="1" height="1" fill="#404040"/>
<rect x="782" y="0" width="1" height="1" fill="#404040"/>
<rect x="784" y="0" width="1" height="1" fill="#404040"/>
<rect x="772" y="3" width="1" height="1" fill="#404040"/>
<rect x="774" y="3" width="1" height="1" fill="#404040"/>
<rect x="776" y="3" width="1" height="1" fill="#404040"/>
<rect x="778" y="3" width="1" height="1" fill="#404040"/>
<rect x="780" y="3" width="1" height="1" fill="#404040"/>
<rect x="782" y="3" width="1" height="1" fill="#404040"/>
<rect x="784" y="3" width="1" height="1" fill="#404040"/>
<rect x="772" y="7" width="1" height="1" fill="#404040"/>
<rect x="774" y="7" width="1" height="1" fill="#404040"/>
<rect x="776" y="7" width="1" height="1" fill="#404040"/>
<rect x="778" y="7" width="1" height="1" fill="#404040"/>
<rect x="780" y="7" width="1" height="1" fill="#404040"/>
<rect x="782" y="7" width="1" height="1" fill="#404040"/>
<rect x="784" y="7" width="1" height="1" fill="#404040"/>
<rect x="772" y="11" width="1" height="1" fill="#404040"/>
<rect x="774" y="11" width="1" height="1" fill="#404040"/>
<rect x="776" y="11" width="1" height="1" fill="#404040"/>
<rect x="778" y="11" width="1" height="1" fill="#404040"/>
<rect x="780" y="11" width="1" height="1" fill="#404040"/>
<rect x="829" y="1" width="1" height="1" fill="#505050"/>
<rect x="829" y="13" width="1" height="1" fill="#505050"/>
<rect x="831" y="1" width="1" height="1" fill="#505050"/>
<rect x="831" y="13" width="1" height="1" fill="#505050"/>
<rect x="833" y="1" width="1" height="1" fill="#505050"/>
<rect x="833" y="13" width="1" height="1" fill="#505050"/>
<rect x="835" y="1" width="1" height="1" fill="#505050"/>
<rect x="835" y="13" width="1" height="1" fill="#505050"/>
<rect x="837" y="1" width="1" height="1" fill="#505050"/>
<rect x="837" y="13" width="1" height="1" fill="#505050"/>
<rect x="839" y="1" width="1" height="1" fill="#505050"/>
<rect x="839" y="13" width="1" height="1" fill="#505050"/>
<rect x="841" y="1" width="1" height="1" fill="#505050"/>
<rect x="841" y="13" width="1" height="1" fill="#505050"/>
<rect x="829" y="1" width="1" height="1" fill="#505050"/>
<rect x="841" y="1" width="1" height="1" fill="#505050"/>
<rect x="829" y="3" width="1" height="1" fill="#505050"/>
<rect x="841" y="3" width="1" height="1" fill="#505050"/>
<rect x="829" y="5" width="1" height="1" fill="#505050"/>
<rect x="841" y="5" width="1" height="1" fill="#505050"/>
<rect x="829" y="7" width="1" height="1" fill="#505050"/>
<rect x="841" y="7" width="1" height="1" fill="#505050"/>
<rect x="829" y="9" width="1" height="1" fill="#505050"/>
<rect x="841" y="9" width="1" height="1" fill="#505050"/>
<rect x="829" y="11" width="1" height="1" fill="#505050"/>
<rect x="841" y="11" width="1" height="1" fill="#505050"/>
<rect x="829" y="13" width="1" height="1" fill="#505050"/>
<rect x="841" y="13" width="1" height="1" fill="#505050"/>
<rect x="829" y="0" width="2" height="1" fill="#505050"/>
<rect x="9" y="0" width="2" height="1" fill="#000"/>
<rect x="17" y="0" width="1" height="1" fill="#000"/>
<rect x="7" y="1" width="6" height="1" fill="#000"/>
<rect x="14" y="1" width="3" height="1" fill="#000"/>
<rect x="8" y="2" width="1" height="1" fill="#000"/>
<rect x="12" y="2" width="1" height="1" fill="#000"/>
<rect x="14" y="2" width="1" height="1" fill="#000"/>
<rect x="9" y="3" width="1" height="1" fill="#000"/>
<rect x="11" y="3" width="1" height="1" fill="#000"/>
<rect x="14" y="3" width="1" height="1" fill="#000"/>
<rect x="7" y="4" width="6" height="1" fill="#000"/>
<rect x="14" y="4" width="5" height="1" fill="#000"/>
<rect x="10" y="5" width="1" height="1" fill="#000"/>
<rect x="14" y="5" width="1" height="1" fill="#000"/>
<rect x="16" y="5" width="1" height="1" fill="#000"/>
<rect x="8" y="6" width="5" height="1" fill="#000"/>
<rect x="14" y="6" width="1" height="1" fill="#000"/>
<rect x="16" y="6" width="1" height="1" fill="#000"/>
<rect x="9" y="7" width="3" height="1" fill="#000"/>
<rect x="14" y="7" width="1" height="1" fill="#000"/>
<rect x="16" y="7" width="1" height="1" fill="#000"/>
<rect x="8" y="8" width="1" height="1" fill="#000"/>
<rect x="10" y="8" width="1" height="1" fill="#000"/>
<rect x="12" y="8" width="1" height="1" fill="#000"/>
<rect x="14" y="8" width="1" height="1" fill="#000"/>
<rect x="16" y="8" width="1" height="1" fill="#000"/>
<rect x="7" y="9" width="1" height="1" fill="#000"/>
<rect x="10" y="9" width="1" height="1" fill="#000"/>
<rect x="13" y="9" width="1" height="1" fill="#000"/>
<rect x="16" y="9" width="1" height="1" fill="#000"/>
<rect x="9" y="10" width="2" height="1" fill="#000"/>
<rect x="12" y="10" width="1" height="1" fill="#000"/>
<rect x="16" y="10" width="1" height="1" fill="#000"/>
<rect x="20" y="0" width="1" height="1" fill="#000"/>
<rect x="21" y="1" width="1" height="1" fill="#000"/>
<rect x="23" y="1" width="8" height="1" fill="#000"/>
<rect x="22" y="2" width="1" height="1" fill="#000"/>
<rect x="27" y="2" width="1" height="1" fill="#000"/>
<rect x="27" y="3" width="1" height="1" fill="#000"/>
<rect x="19" y="4" width="2" height="1" fill="#000"/>
<rect x="27" y="4" width="1" height="1" fill="#000"/>
<rect x="20" y="5" width="1" height="1" fill="#000"/>
<rect x="27" y="5" width="1" height="1" fill="#000"/>
<rect x="20" y="6" width="1" height="1" fill="#000"/>
<rect x="27" y="6" width="1" height="1" fill="#000"/>
<rect x="20" y="7" width="1" height="1" fill="#000"/>
<rect x="23" y="7" width="1" height="1" fill="#000"/>
<rect x="27" y="7" width="1" height="1" fill="#000"/>
<rect x="20" y="8" width="1" height="1" fill="#000"/>
<rect x="22" y="8" width="1" height="1" fill="#000"/>
<rect x="27" y="8" width="1" height="1" fill="#000"/>
<rect x="20" y="9" width="2" height="1" fill="#000"/>
<rect x="27" y="9" width="1" height="1" fill="#000"/>
<rect x="24" y="10" width="4" height="1" fill="#000"/>
<rect x="33" y="0" width="1" height="1" fill="#000"/>
<rect x="39" y="0" width="1" height="1" fill="#000"/>
<rect x="34" y="1" width="1" height="1" fill="#000"/>
<rect x="38" y="1" width="1" height="1" fill="#000"/>
<rect x="32" y="2" width="10" height="1" fill="#000"/>
<rect x="32" y="3" width="1" height="1" fill="#000"/>
<rect x="37" y="3" width="1" height="1" fill="#000"/>
<rect x="41" y="3" width="1" height="1" fill="#000"/>
<rect x="32" y="4" width="10" height="1" fill="#000"/>
<rect x="32" y="5" width="1" height="1" fill="#000"/>
<rect x="37" y="5" width="1" height="1" fill="#000"/>
<rect x="41" y="5" width="1" height="1" fill="#000"/>
<rect x="32" y="6" width="10" height="1" fill="#000"/>
<rect x="37" y="7" width="1" height="1" fill="#000"/>
<rect x="31" y="8" width="12" height="1" fill="#000"/>
<rect x="37" y="9" width="1" height="1" fill="#000"/>
<rect x="37" y="10" width="1" height="1" fill="#000"/>
<rect x="164" y="0" width="1" height="1" fill="#000"/>
<rect x="160" y="1" width="10" height="1" fill="#000"/>
<rect x="160" y="2" width="1" height="1" fill="#000"/>
<rect x="169" y="2" width="1" height="1" fill="#000"/>
<rect x="160" y="3" width="1" height="1" fill="#000"/>
<rect x="169" y="3" width="1" height="1" fill="#000"/>
<rect x="160" y="4" width="10" height="1" fill="#000"/>
<rect x="160" y="5" width="1" height="1" fill="#000"/>
<rect x="169" y="5" width="1" height="1" fill="#000"/>
<rect x="160" y="6" width="10" height="1" fill="#000"/>
<rect x="160" y="7" width="1" height="1" fill="#000"/>
<rect x="169" y="7" width="1" height="1" fill="#000"/>
<rect x="160" y="8" width="1" height="1" fill="#000"/>
<rect x="169" y="8" width="1" height="1" fill="#000"/>
<rect x="160" y="9" width="10" height="1" fill="#000"/>
<rect x="160" y="10" width="1" height="1" fill="#000"/>
<rect x="169" y="10" width="1" height="1" fill="#000"/>
<rect x="179" y="0" width="1" height="1" fill="#000"/>
<rect x="172" y="1" width="5" height="1" fill="#000"/>
<rect x="179" y="1" width="1" height="1" fill="#000"/>
<rect x="177" y="2" width="6" height="1" fill="#000"/>
<rect x="179" y="3" width="1" height="1" fill="#000"/>
<rect x="181" y="3" width="1" height="1" fill="#000"/>
<rect x="171" y="4" width="6" height="1" fill="#000"/>
<rect x="179" y="4" width="1" height="1" fill="#000"/>
<rect x="181" y="4" width="1" height="1" fill="#000"/>
<rect x="174" y="5" width="1" height="1" fill="#000"/>
<rect x="178" y="5" width="1" height="1" fill="#000"/>
<rect x="181" y="5" width="1" height="1" fill="#000"/>
<rect x="173" y="6" width="1" height="1" fill="#000"/>
<rect x="178" y="6" width="1" height="1" fill="#000"/>
<rect x="181" y="6" width="1" height="1" fill="#000"/>
<rect x="173" y="7" width="1" height="1" fill="#000"/>
<rect x="176" y="7" width="1" height="1" fill="#000"/>
<rect x="178" y="7" width="1" height="1" fill="#000"/>
<rect x="181" y="7" width="1" height="1" fill="#000"/>
<rect x="172" y="8" width="1" height="1" fill="#000"/>
<rect x="176" y="8" width="2" height="1" fill="#000"/>
<rect x="181" y="8" width="1" height="1" fill="#000"/>
<rect x="172" y="9" width="4" height="1" fill="#000"/>
<rect x="177" y="9" width="1" height="1" fill="#000"/>
<rect x="181" y="9" width="1" height="1" fill="#000"/>
<rect x="176" y="10" width="1" height="1" fill="#000"/>
<rect x="179" y="10" width="3" height="1" fill="#000"/>
<rect x="188" y="0" width="1" height="1" fill="#000"/>
<rect x="188" y="1" width="1" height="1" fill="#000"/>
<rect x="183" y="2" width="12" height="1" fill="#000"/>
<rect x="186" y="4" width="1" height="1" fill="#000"/>
<rect x="191" y="4" width="1" height="1" fill="#000"/>
<rect x="185" y="5" width="1" height="1" fill="#000"/>
<rect x="192" y="5" width="1" height="1" fill="#000"/>
<rect x="184" y="6" width="1" height="1" fill="#000"/>
<rect x="193" y="6" width="1" height="1" fill="#000"/>
<rect x="186" y="7" width="2" height="1" fill="#000"/>
<rect x="190" y="7" width="2" height="1" fill="#000"/>
<rect x="188" y="8" width="2" height="1" fill="#000"/>
<rect x="186" y="9" width="2" height="1" fill="#000"/>
<rect x="190" y="9" width="2" height="1" fill="#000"/>
<rect x="183" y="10" width="3" height="1" fill="#000"/>
<rect x="192" y="10" width="3" height="1" fill="#000"/>
<rect x="197" y="0" width="9" height="1" fill="#000"/>
<rect x="197" y="1" width="1" height="1" fill="#000"/>
<rect x="205" y="1" width="1" height="1" fill="#000"/>
<rect x="197" y="2" width="9" height="1" fill="#000"/>
<rect x="197" y="3" width="1" height="1" fill="#000"/>
<rect x="205" y="3" width="1" height="1" fill="#000"/>
<rect x="197" y="4" width="9" height="1" fill="#000"/>
<rect x="198" y="5" width="1" height="1" fill="#000"/>
<rect x="197" y="6" width="10" height="1" fill="#000"/>
<rect x="196" y="7" width="1" height="1" fill="#000"/>
<rect x="200" y="7" width="1" height="1" fill="#000"/>
<rect x="203" y="7" width="1" height="1" fill="#000"/>
<rect x="205" y="7" width="1" height="1" fill="#000"/>
<rect x="195" y="8" width="1" height="1" fill="#000"/>
<rect x="199" y="8" width="1" height="1" fill="#000"/>
<rect x="202" y="8" width="1" height="1" fill="#000"/>
<rect x="205" y="8" width="1" height="1" fill="#000"/>
<rect x="198" y="9" width="1" height="1" fill="#000"/>
<rect x="201" y="9" width="1" height="1" fill="#000"/>
<rect x="205" y="9" width="1" height="1" fill="#000"/>
<rect x="197" y="10" width="1" height="1" fill="#000"/>
<rect x="200" y="10" width="1" height="1" fill="#000"/>
<rect x="202" y="10" width="4" height="1" fill="#000"/>
<g shape-rendering="geometricPrecision"><defs><linearGradient id="gbk" x1="0" y1="0" x2="1" y2="1"><stop offset="0" stop-color="#c8900c"/><stop offset=".35" stop-color="#f4d440"/><stop offset=".6" stop-color="#f8e468"/><stop offset="1" stop-color="#c08a10"/></linearGradient><linearGradient id="gcl" x1="0" y1="0" x2="0" y2="1"><stop offset="0" stop-color="#ffffff"/><stop offset="1" stop-color="#c4d0e8"/></linearGradient><linearGradient id="gsv" x1="0" y1="0" x2="1" y2="0"><stop offset="0" stop-color="#1a8af0"/><stop offset="1" stop-color="#2f6fd8"/></linearGradient></defs>
<polygon points="60.6,-1 70.6,7.6 68,11 62.6,14.8 55.2,8.8" fill="url(#gbk)" stroke="#a8700a" stroke-width="1"/>
<path d="M60.6,-1 L55.2,8.8" stroke="#9a6408" stroke-width="1.6" fill="none"/>
<path d="M56.5,10 L62.6,13.6 L69.5,8.8" stroke="#f4e6b0" stroke-width=".9" fill="none"/>
<path d="M56,9.2 L62.6,14.8 L70,8.4" stroke="#a8700a" stroke-width=".8" fill="none"/>
<rect x="85.5" y="-1" width="10.5" height="9" fill="url(#gsv)" stroke="#1560c0" stroke-width="1"/>
<path d="M88.5,-1 V7" stroke="#7cc0ff" stroke-width="1"/>
<rect x="90" y="2.6" width="5" height="1.6" fill="#d8ecff"/>
<path d="M86,14.4 a3,3 0 0 1 -0.2,-5.9 a3.6,3.6 0 0 1 6.6,-1.3 a3.2,3.2 0 0 1 4.6,2 a2.7,2.7 0 0 1 -0.6,5.2 z" fill="url(#gcl)" stroke="#6a86c0" stroke-width="1"/>
<path d="M85.5,14.6 H97.5" stroke="#5070b0" stroke-width="1"/>
<path d="M119,6.6 L119,-1 A7.6,7.6 0 0 1 119,14.2 Z" fill="#58b058" opacity=".38"/>
<circle cx="119" cy="6.6" r="7.4" fill="none" stroke="#a8bce4" stroke-width="1"/>
<circle cx="119" cy="6.6" r="4.8" fill="none" stroke="#6288d8" stroke-width="1.2"/>
<path d="M119,-0.8 A7.4,7.4 0 0 1 119,14" fill="none" stroke="#5aa85a" stroke-width="1.2" opacity=".8"/>
<circle cx="119" cy="6.4" r="2" fill="#2b55c8"/>
<path d="M119.5,7 V14.4 H123" stroke="#18a018" stroke-width="1.4" fill="none"/>
<path d="M139,6.5 L153.5,6.5 L147,14.5 L144.5,14.5 Z" fill="#f8d848" stroke="#d0a010" stroke-width="1"/>
<ellipse cx="146.3" cy="3.8" rx="8" ry="2.6" fill="#58b0e0" stroke="#3c8cc0" stroke-width=".8"/>
<path d="M142.5,3 Q144,-2 146.5,-3 Q149,-2 150.5,3 Z" fill="#6cbcea"/>
<circle cx="150.3" cy="10.8" r="4.2" fill="#d82010"/>
<rect x="148.7" y="9.2" width="3.3" height="3.3" fill="#fff"/>
<path d="M287,9.8 Q290,6.5 292,4.8 Q293.5,4 295,5.5 Q297,7.5 298.8,8.3" stroke="#2f962f" stroke-width="1.2" fill="none"/>
<line x1="328" y1="10" x2="332.6" y2="13.8" stroke="#b8901c" stroke-width="3.6"/>
<line x1="328.3" y1="9.8" x2="332.4" y2="13.2" stroke="#f0d040" stroke-width="1.8"/>
<circle cx="324" cy="5" r="5.6" fill="#d4eeff" stroke="#3878c8" stroke-width="1.1"/>
<rect x="321" y="4.2" width="6" height="1.7" fill="#3a86b8"/>
<rect x="323.15" y="2" width="1.7" height="6" fill="#3a86b8"/>
<line x1="356" y1="10" x2="360.6" y2="13.8" stroke="#b8901c" stroke-width="3.6"/>
<line x1="356.3" y1="9.8" x2="360.4" y2="13.2" stroke="#f0d040" stroke-width="1.8"/>
<circle cx="352" cy="5" r="5.6" fill="#d4eeff" stroke="#3878c8" stroke-width="1.1"/>
<rect x="349" y="4.2" width="6" height="1.7" fill="#3a86b8"/>
<polygon points="417.5,3 421.3,6.5 417.5,10" fill="#7be87b" stroke="#18a018" stroke-width="1"/>
<polygon points="447.3,6.5 450,4.3 449.6,6 452,6 452,7 449.6,7 450,8.7" fill="#e04800"/>
<path d="M471.5,-1 H480 L482.5,2 V12 H471.5 Z" fill="#fdfdfd" stroke="#a9a9a9" stroke-width="1"/>
<path d="M474,3 V8" stroke="#807860" stroke-width="1"/>
<rect x="479" y="5" width="4" height="12" fill="#129812" shape-rendering="crispEdges"/>
<rect x="475" y="9" width="12" height="4" fill="#129812" shape-rendering="crispEdges"/>
<rect x="480" y="6" width="2" height="10" fill="#2ee02e" shape-rendering="crispEdges"/>
<rect x="476" y="10" width="10" height="2" fill="#2ee02e" shape-rendering="crispEdges"/>
<defs><linearGradient id="gck" x1="0" y1="0" x2="1" y2="1"><stop offset="0" stop-color="#3a96f0"/><stop offset="1" stop-color="#0a48a8"/></linearGradient></defs>
<rect x="514.6" y="-1.5" width="4.8" height="2.2" fill="#1a6ad0"/>
<circle cx="517" cy="6.9" r="6.5" fill="#f4f4f6" stroke="url(#gck)" stroke-width="2.8"/>
<rect x="516.6" y="2.6" width=".8" height=".8" fill="#9098a8"/>
<rect x="520.5" y="6.5" width=".8" height=".8" fill="#9098a8"/>
<rect x="516.6" y="10.4" width=".8" height=".8" fill="#9098a8"/>
<rect x="512.7" y="6.5" width=".8" height=".8" fill="#9098a8"/>
<rect x="519.4" y="3.7" width=".8" height=".8" fill="#9098a8"/>
<rect x="519.4" y="9.3" width=".8" height=".8" fill="#9098a8"/>
<rect x="513.8" y="9.3" width=".8" height=".8" fill="#9098a8"/>
<rect x="513.8" y="3.7" width=".8" height=".8" fill="#9098a8"/>
<path d="M516.6,3.6 V7.3 H519.6" stroke="#202020" stroke-width="1.2" fill="none"/>
<path d="M550.5,6.5 H552 L553.5,5 H555 L556.5,5.8 H558 L560,4.8 H561.5" stroke="#a82000" stroke-width="1.2" fill="none"/>
<path d="M551,11.5 H552.5 L554,10.5 L555.5,11.5 H556.5 L558.5,9.5 H559.5 L561.5,11.5" stroke="#149030" stroke-width="1.2" fill="none"/>
<polygon points="600,-1.5 600,10.9 602.6,8.7 605,14 606.7,13.2 604.4,7.8 607.9,7.4" fill="#505050"/>
<line x1="717" y1="13.8" x2="729" y2="1.8" stroke="#505050" stroke-width="1.1"/>
<line x1="742.5" y1="8.8" x2="750.8" y2="1.3" stroke="#505050" stroke-width=".9"/>
<line x1="747.9" y1="13.7" x2="757.3" y2="5.4" stroke="#505050" stroke-width=".9"/>
<line x1="744.8" y1="13.3" x2="746.2" y2="6.6" stroke="#484848" stroke-width="1.5"/>
<line x1="748.2" y1="10.6" x2="751.8" y2="3.8" stroke="#484848" stroke-width="1.5"/>
<line x1="752.6" y1="7.6" x2="754.7" y2="-0.5" stroke="#484848" stroke-width="1.5"/>
<line x1="743.5" y1="12.2" x2="746.5" y2="9.5" stroke="#505050" stroke-width="1"/>
<line x1="753" y1="4.6" x2="756.5" y2="1.5" stroke="#505050" stroke-width="1"/>
<text x="753.4" y="16" font-size="7.2" font-weight="bold" fill="#404040">E</text>
<text x="781.8" y="16" font-size="7.2" font-weight="bold" fill="#404040">F</text>
<text x="802.3" y="12" font-size="12.6" fill="#505050" stroke="#505050" stroke-width=".3">A</text>
<text x="830.8" y="12" font-size="11.4" fill="#505050" stroke="#505050" stroke-width=".5">T</text>
<polygon points="859.5,0.8 862.8,4 859.5,5.2 856.2,4" fill="#505050"/>
<polygon points="866.6,14 870,10.6 866.6,9.6 863.2,10.6" fill="#505050"/>
<path d="M858.5,8.5 L860.5,10.5 L864.5,5.5" stroke="#505050" stroke-width="1.2" fill="none"/>
<line x1="1616.6" y1="7.8" x2="1612" y2="12" stroke="#1452c8" stroke-width="2.5"/>
<circle cx="1619.6" cy="4.4" r="3.8" fill="#f6f6ff" stroke="#2060d0" stroke-width="1.3"/>
<path d="M1639,13.2 L1639.6,15.8 L1642,13.4 Z" fill="#909090"/>
<ellipse cx="1641.7" cy="9" rx="5.6" ry="4.5" fill="#e2e2ea" stroke="#b4b4b8" stroke-width="1"/>
<circle cx="1650.7" cy="4.4" r="8.2" fill="#dc2a12"/>
<text x="1646.3" y="9.2" font-family="Liberation Serif" font-size="15.5" font-weight="bold" fill="#fff" style="font-family:'Liberation Serif',serif">1</text></g>
<g>
<text x="1623.6" y="61" font-size="9.9" fill="#000" stroke="#000" stroke-width="0.22" letter-spacing="-0.5" text-anchor="start" xml:space="preserve">1.08010</text>
<text x="1623.6" y="94" font-size="9.9" fill="#000" stroke="#000" stroke-width="0.22" letter-spacing="-0.5" text-anchor="start" xml:space="preserve">1.07840</text>
<text x="1623.6" y="127" font-size="9.9" fill="#000" stroke="#000" stroke-width="0.22" letter-spacing="-0.5" text-anchor="start" xml:space="preserve">1.07665</text>
<text x="1623.6" y="160" font-size="9.9" fill="#000" stroke="#000" stroke-width="0.22" letter-spacing="-0.5" text-anchor="start" xml:space="preserve">1.07495</text>
<text x="1623.6" y="193" font-size="9.9" fill="#000" stroke="#000" stroke-width="0.22" letter-spacing="-0.5" text-anchor="start" xml:space="preserve">1.07325</text>
<text x="1623.6" y="226" font-size="9.9" fill="#000" stroke="#000" stroke-width="0.22" letter-spacing="-0.5" text-anchor="start" xml:space="preserve">1.07150</text>
<text x="1623.6" y="259" font-size="9.9" fill="#000" stroke="#000" stroke-width="0.22" letter-spacing="-0.5" text-anchor="start" xml:space="preserve">1.06980</text>
<text x="1623.6" y="292" font-size="9.9" fill="#000" stroke="#000" stroke-width="0.22" letter-spacing="-0.5" text-anchor="start" xml:space="preserve">1.06810</text>
<text x="1623.6" y="325" font-size="9.9" fill="#000" stroke="#000" stroke-width="0.22" letter-spacing="-0.5" text-anchor="start" xml:space="preserve">1.06635</text>
<text x="1623.6" y="358" font-size="9.9" fill="#000" stroke="#000" stroke-width="0.22" letter-spacing="-0.5" text-anchor="start" xml:space="preserve">1.06465</text>
<text x="1623.6" y="391" font-size="9.9" fill="#000" stroke="#000" stroke-width="0.22" letter-spacing="-0.5" text-anchor="start" xml:space="preserve">1.06295</text>
<text x="1623.6" y="424" font-size="9.9" fill="#000" stroke="#000" stroke-width="0.22" letter-spacing="-0.5" text-anchor="start" xml:space="preserve">1.06120</text>
<text x="1623.6" y="457" font-size="9.9" fill="#000" stroke="#000" stroke-width="0.22" letter-spacing="-0.5" text-anchor="start" xml:space="preserve">1.05950</text>
<text x="1623.6" y="490" font-size="9.9" fill="#000" stroke="#000" stroke-width="0.22" letter-spacing="-0.5" text-anchor="start" xml:space="preserve">1.05780</text>
<text x="1623.6" y="523" font-size="9.9" fill="#000" stroke="#000" stroke-width="0.22" letter-spacing="-0.5" text-anchor="start" xml:space="preserve">1.05605</text>
<text x="1623.6" y="556" font-size="9.9" fill="#000" stroke="#000" stroke-width="0.22" letter-spacing="-0.5" text-anchor="start" xml:space="preserve">1.05435</text>
<text x="1623.6" y="589" font-size="9.9" fill="#000" stroke="#000" stroke-width="0.22" letter-spacing="-0.5" text-anchor="start" xml:space="preserve">1.05265</text>
<text x="1623.6" y="235" font-size="9.9" fill="#fff" stroke="#fff" stroke-width="0.22" letter-spacing="-0.5" text-anchor="start" xml:space="preserve">1.07099</text>
<text x="1623.6" y="268" font-size="9.9" fill="#fff" stroke="#fff" stroke-width="0.22" letter-spacing="-0.5" text-anchor="start" xml:space="preserve">1.06933</text>
<text x="1623.6" y="317" font-size="9.9" fill="#fff" stroke="#fff" stroke-width="0.22" letter-spacing="-0.5" text-anchor="start" xml:space="preserve">1.06673</text>
<text x="1623.6" y="350" font-size="9.9" fill="#fff" stroke="#fff" stroke-width="0.22" letter-spacing="-0.5" text-anchor="start" xml:space="preserve">1.06502</text>
<text x="1623.6" y="381" font-size="9.9" fill="#fff" stroke="#fff" stroke-width="0.22" letter-spacing="-0.5" text-anchor="start" xml:space="preserve">1.06341</text>
<text x="1623.6" y="301" font-size="9.9" fill="#fff" stroke="#fff" stroke-width="0.22" letter-spacing="-0.5" text-anchor="start" xml:space="preserve">1.06761</text>
<text x="4.4" y="826" font-size="9.9" fill="#000" stroke="#000" stroke-width="0.22" textLength="51.5" lengthAdjust="spacing" text-anchor="start" xml:space="preserve">14 Feb 2023</text>
<text x="68.4" y="826" font-size="9.9" fill="#000" stroke="#000" stroke-width="0.22" textLength="55" lengthAdjust="spacing" text-anchor="start" xml:space="preserve">15 Feb 04:00</text>
<text x="132.4" y="826" font-size="9.9" fill="#000" stroke="#000" stroke-width="0.22" textLength="55" lengthAdjust="spacing" text-anchor="start" xml:space="preserve">15 Feb 20:00</text>
<text x="196.4" y="826" font-size="9.9" fill="#000" stroke="#000" stroke-width="0.22" textLength="55" lengthAdjust="spacing" text-anchor="start" xml:space="preserve">16 Feb 12:00</text>
<text x="260.4" y="826" font-size="9.9" fill="#000" stroke="#000" stroke-width="0.22" textLength="55" lengthAdjust="spacing" text-anchor="start" xml:space="preserve">17 Feb 04:00</text>
<text x="324.4" y="826" font-size="9.9" fill="#000" stroke="#000" stroke-width="0.22" textLength="55" lengthAdjust="spacing" text-anchor="start" xml:space="preserve">19 Feb 23:00</text>
<text x="388.4" y="826" font-size="9.9" fill="#000" stroke="#000" stroke-width="0.22" textLength="55" lengthAdjust="spacing" text-anchor="start" xml:space="preserve">20 Feb 12:00</text>
<text x="452.4" y="826" font-size="9.9" fill="#000" stroke="#000" stroke-width="0.22" textLength="55" lengthAdjust="spacing" text-anchor="start" xml:space="preserve">21 Feb 04:00</text>
<text x="516.4" y="826" font-size="9.9" fill="#000" stroke="#000" stroke-width="0.22" textLength="55" lengthAdjust="spacing" text-anchor="start" xml:space="preserve">21 Feb 20:00</text>
<text x="580.4" y="826" font-size="9.9" fill="#000" stroke="#000" stroke-width="0.22" textLength="55" lengthAdjust="spacing" text-anchor="start" xml:space="preserve">22 Feb 12:00</text>
<text x="644.4" y="826" font-size="9.9" fill="#000" stroke="#000" stroke-width="0.22" textLength="55" lengthAdjust="spacing" text-anchor="start" xml:space="preserve">23 Feb 04:00</text>
<text x="708.4" y="826" font-size="9.9" fill="#000" stroke="#000" stroke-width="0.22" textLength="55" lengthAdjust="spacing" text-anchor="start" xml:space="preserve">23 Feb 20:00</text>
<text x="772.4" y="826" font-size="9.9" fill="#000" stroke="#000" stroke-width="0.22" textLength="55" lengthAdjust="spacing" text-anchor="start" xml:space="preserve">24 Feb 12:00</text>
<text x="836.4" y="826" font-size="9.9" fill="#000" stroke="#000" stroke-width="0.22" textLength="55" lengthAdjust="spacing" text-anchor="start" xml:space="preserve">27 Feb 04:00</text>
<text x="900.4" y="826" font-size="9.9" fill="#000" stroke="#000" stroke-width="0.22" textLength="55" lengthAdjust="spacing" text-anchor="start" xml:space="preserve">27 Feb 20:00</text>
<text x="964.4" y="826" font-size="9.9" fill="#000" stroke="#000" stroke-width="0.22" textLength="55" lengthAdjust="spacing" text-anchor="start" xml:space="preserve">28 Feb 12:00</text>
<text x="1028.4" y="826" font-size="9.9" fill="#000" stroke="#000" stroke-width="0.22" textLength="49.8" lengthAdjust="spacing" text-anchor="start" xml:space="preserve">1 Mar 04:00</text>
<text x="1092.4" y="826" font-size="9.9" fill="#000" stroke="#000" stroke-width="0.22" textLength="49.8" lengthAdjust="spacing" text-anchor="start" xml:space="preserve">1 Mar 20:00</text>
<text x="1156.4" y="826" font-size="9.9" fill="#000" stroke="#000" stroke-width="0.22" textLength="49.8" lengthAdjust="spacing" text-anchor="start" xml:space="preserve">2 Mar 12:00</text>
<text x="1220.4" y="826" font-size="9.9" fill="#000" stroke="#000" stroke-width="0.22" textLength="49.8" lengthAdjust="spacing" text-anchor="start" xml:space="preserve">3 Mar 04:00</text>
<text x="1284.4" y="826" font-size="9.9" fill="#000" stroke="#000" stroke-width="0.22" textLength="49.8" lengthAdjust="spacing" text-anchor="start" xml:space="preserve">5 Mar 23:00</text>
<text x="1348.4" y="826" font-size="9.9" fill="#000" stroke="#000" stroke-width="0.22" textLength="49.8" lengthAdjust="spacing" text-anchor="start" xml:space="preserve">6 Mar 12:00</text>
<text x="20.2" y="35" font-size="9.9" fill="#000" stroke="#000" stroke-width="0.22" textLength="57.6" lengthAdjust="spacing" text-anchor="start" xml:space="preserve">EURUSD-,H4</text>
<text x="83" y="35" font-size="9.9" fill="#000" stroke="#000" stroke-width="0.22" textLength="33" lengthAdjust="spacing" text-anchor="start" xml:space="preserve">1.06751</text>
<text x="119" y="35" font-size="9.9" fill="#000" stroke="#000" stroke-width="0.22" textLength="33" lengthAdjust="spacing" text-anchor="start" xml:space="preserve">1.06779</text>
<text x="155" y="35" font-size="9.9" fill="#000" stroke="#000" stroke-width="0.22" textLength="33" lengthAdjust="spacing" text-anchor="start" xml:space="preserve">1.06715</text>
<text x="191" y="35" font-size="9.9" fill="#000" stroke="#000" stroke-width="0.22" textLength="33" lengthAdjust="spacing" text-anchor="start" xml:space="preserve">1.06761</text>
<text x="9" y="603" font-size="9.9" fill="#000" stroke="#000" stroke-width="0.22" textLength="66" lengthAdjust="spacing" text-anchor="start" xml:space="preserve">MACD(12,26,9)</text>
<text x="78.4" y="603" font-size="9.9" fill="#000" stroke="#000" stroke-width="0.22" textLength="38.6" lengthAdjust="spacing" text-anchor="start" xml:space="preserve">0.001378</text>
<text x="119.2" y="603" font-size="9.9" fill="#000" stroke="#000" stroke-width="0.22" textLength="38.6" lengthAdjust="spacing" text-anchor="start" xml:space="preserve">0.000553</text>
<text x="9" y="716" font-size="9.9" fill="#000" stroke="#000" stroke-width="0.22" textLength="31.8" lengthAdjust="spacing" text-anchor="start" xml:space="preserve">RSI(14)</text>
<text x="43.6" y="716" font-size="9.9" fill="#000" stroke="#000" stroke-width="0.22" textLength="33.8" lengthAdjust="spacing" text-anchor="start" xml:space="preserve">62.4954</text>
<text x="1621.4" y="601" font-size="9.9" fill="#000" stroke="#000" stroke-width="0.22" letter-spacing="-0.5" text-anchor="start" xml:space="preserve">0.001597</text>
<text x="1621.4" y="632" font-size="9.9" fill="#000" stroke="#000" stroke-width="0.22" letter-spacing="-0.5" text-anchor="start" xml:space="preserve">0.00</text>
<text x="1620.4" y="698" font-size="9.9" fill="#000" stroke="#000" stroke-width="0.22" textLength="42" lengthAdjust="spacing" text-anchor="start" xml:space="preserve">-0.003235</text>
<text x="1620.6" y="714" font-size="9.9" fill="#000" stroke="#000" stroke-width="0.22" letter-spacing="-0.5" text-anchor="start" xml:space="preserve">100</text>
<text x="1619.7" y="730" font-size="9.9" fill="#000" stroke="#000" stroke-width="0.22" letter-spacing="-0.5" text-anchor="start" xml:space="preserve">80</text>
<text x="1619.7" y="762" font-size="9.9" fill="#000" stroke="#000" stroke-width="0.22" letter-spacing="-0.5" text-anchor="start" xml:space="preserve">50</text>
<text x="1619.9" y="800" font-size="9.9" fill="#000" stroke="#000" stroke-width="0.22" letter-spacing="-0.5" text-anchor="start" xml:space="preserve">15</text>
<text x="1620.5" y="810" font-size="9.9" fill="#000" stroke="#000" stroke-width="0.22" letter-spacing="-0.5" text-anchor="start" xml:space="preserve">0</text>
<text x="903" y="11" font-size="9.5" fill="#404040" stroke="#404040" stroke-width="0" letter-spacing="-0.25" text-anchor="start" xml:space="preserve">M1</text>
<text x="931.5" y="11" font-size="9.5" fill="#404040" stroke="#404040" stroke-width="0" letter-spacing="-0.25" text-anchor="start" xml:space="preserve">M5</text>
<text x="957.5" y="11" font-size="9.5" fill="#404040" stroke="#404040" stroke-width="0" letter-spacing="-0.25" text-anchor="start" xml:space="preserve">M15</text>
<text x="985.5" y="11" font-size="9.5" fill="#404040" stroke="#404040" stroke-width="0" letter-spacing="-0.25" text-anchor="start" xml:space="preserve">M30</text>
<text x="1016.5" y="11" font-size="9.5" fill="#404040" stroke="#404040" stroke-width="0" letter-spacing="-0.25" text-anchor="start" xml:space="preserve">H1</text>
<text x="1043.5" y="11" font-size="9.5" fill="#404040" stroke="#404040" stroke-width="0" letter-spacing="-0.25" text-anchor="start" xml:space="preserve">H4</text>
<text x="1072.5" y="11" font-size="9.5" fill="#404040" stroke="#404040" stroke-width="0" letter-spacing="-0.25" text-anchor="start" xml:space="preserve">D1</text>
<text x="1100" y="11" font-size="9.5" fill="#404040" stroke="#404040" stroke-width="0" letter-spacing="-0.25" text-anchor="start" xml:space="preserve">W1</text>
<text x="1126.5" y="11" font-size="9.5" fill="#404040" stroke="#404040" stroke-width="0" letter-spacing="-0.25" text-anchor="start" xml:space="preserve">MN</text>
</g>
</svg>
</body></html>
